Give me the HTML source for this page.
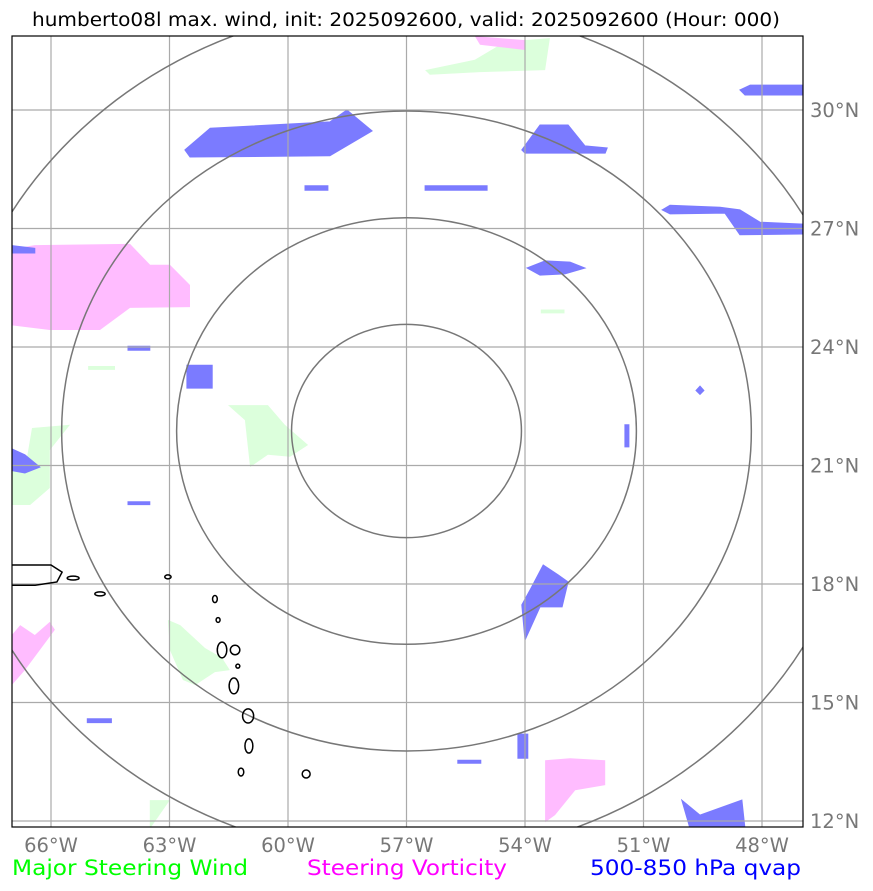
<!DOCTYPE html>
<html><head><meta charset="utf-8"><style>
body{margin:0;background:#fff;}
svg{display:block;font-family:"DejaVu Sans","Liberation Sans",sans-serif;}
</style></head><body>
<svg id="chart" width="873" height="891" viewBox="0 0 873 891" xmlns="http://www.w3.org/2000/svg">
<text x="32" y="26" font-size="18.5" textLength="748" lengthAdjust="spacingAndGlyphs" fill="#000">humberto08l max. wind, init: 2025092600, valid: 2025092600 (Hour: 000)</text>
<defs><clipPath id="clip"><rect x="12" y="36" width="791" height="791"/></clipPath></defs>
<g id="plot" clip-path="url(#clip)"></g>
<rect x="12" y="36" width="791" height="791" fill="none" stroke="#000" stroke-width="1.2"/>
<g id="axes"></g>
<text x="12" y="875" font-size="21.5" textLength="236" lengthAdjust="spacingAndGlyphs" fill="#00ff00">Major Steering Wind</text>
<text x="307" y="875" font-size="21.5" textLength="200" lengthAdjust="spacingAndGlyphs" fill="#ff00ff">Steering Vorticity</text>
<text x="590" y="875" font-size="21.5" textLength="211" lengthAdjust="spacingAndGlyphs" fill="#0000ff">500-850 hPa qvap</text>
</svg>
<script>
const lonTicks=[-66,-63,-60,-57,-54,-51,-48];
const latTicks=[30,27,24,21,18,15,12];
const lonLabels=["66°W","63°W","60°W","57°W","54°W","51°W","48°W"];
const latLabels=["30°N","27°N","24°N","21°N","18°N","15°N","12°N"];
const stormCenter=[-57,22];
const ringRadii=[1,2,3,4];
const qvapShapes=[
[[-62.61,28.99],[-61.97,29.54],[-58.94,29.70],[-58.51,30.0],[-57.87,29.47],[-58.94,28.84],[-62.48,28.81]],
[[-54.08,28.99],[-53.62,29.62],[-52.91,29.62],[-52.48,29.09],[-51.92,29.04],[-51.97,28.91],[-54.0,28.91]],
[[-48.56,30.51],[-48.30,30.63],[-46.9,30.63],[-46.9,30.38],[-48.43,30.38]],
[[-50.53,27.47],[-50.33,27.59],[-49.06,27.54],[-48.56,27.47],[-48.05,27.16],[-46.9,27.11],[-46.9,26.86],[-48.56,26.84],[-48.94,27.39],[-50.33,27.37]],
[[-53.95,26.0],[-53.49,26.18],[-52.86,26.15],[-52.48,26.0],[-52.99,25.85],[-53.62,25.82]],
[[-62.56,23.54],[-61.92,23.54],[-61.92,22.96],[-62.56,22.96]],
[[-54.08,17.47],[-53.87,17.85],[-53.54,18.48],[-53.16,18.23],[-52.91,18.05],[-53.06,17.42],[-53.62,17.42],[-54.0,16.58]],
[[-50.03,12.53],[-49.57,12.15],[-48.51,12.53],[-48.43,11.8],[-49.82,11.8]],
[[-67.1,21.47],[-66.66,21.27],[-66.28,20.96],[-66.66,20.81],[-67.1,20.89]],
[[-56.53,28.08],[-54.96,28.08],[-54.96,27.97],[-56.53,27.97]],
[[-59.57,28.08],[-58.99,28.08],[-58.99,27.97],[-59.57,27.97]],
[[-51.47,22.03],[-51.37,22.03],[-51.37,21.47],[-51.47,21.47]],
[[-64.05,20.08],[-63.5,20.08],[-63.5,20.01],[-64.05,20.01]],
[[-64.05,24.02],[-63.5,24.02],[-63.5,23.92],[-64.05,23.92]],
[[-65.08,14.59],[-64.47,14.59],[-64.47,14.49],[-65.08,14.49]],
[[-54.18,14.2],[-53.93,14.2],[-53.93,13.59],[-54.18,13.59]],
[[-55.7,13.54],[-55.12,13.54],[-55.12,13.46],[-55.7,13.46]],
[[-67.1,26.58],[-66.41,26.5],[-66.41,26.38],[-67.1,26.38]],
[[-49.57,23.01],[-49.47,22.9],[-49.57,22.8],[-49.67,22.9]]
];
const vortShapes=[
[[-67.1,26.46],[-66.41,26.58],[-64.0,26.61],[-63.49,26.08],[-62.99,26.08],[-62.48,25.57],[-62.48,25.01],[-64.0,24.99],[-64.76,24.43],[-66.03,24.43],[-67.1,24.56]],
[[-67.1,16.58],[-66.78,16.96],[-66.41,16.71],[-66.03,17.04],[-65.90,16.84],[-66.66,15.82],[-67.1,15.32]],
[[-53.49,13.54],[-52.86,13.59],[-51.97,13.54],[-51.97,12.91],[-52.73,12.78],[-53.24,12.15],[-53.49,11.97]],
[[-55.27,31.87],[-54.0,31.77],[-54.0,31.52],[-55.14,31.65]]
];
const windShapes=[
[[-56.53,31.01],[-55.27,31.27],[-54.63,31.65],[-54.0,31.77],[-53.37,31.82],[-53.49,31.01],[-55.14,30.96],[-56.41,30.89]],
[[-61.52,22.53],[-60.51,22.53],[-60.08,22.03],[-59.49,21.52],[-59.95,21.22],[-60.51,21.27],[-60.96,20.96],[-61.09,22.15]],
[[-67.1,20.89],[-66.66,20.89],[-66.48,21.95],[-65.52,22.03],[-66.03,21.39],[-66.03,20.43],[-66.53,20.0],[-67.1,20.0]],
[[-63.04,17.09],[-62.73,16.96],[-62.10,16.38],[-61.67,16.13],[-61.47,15.82],[-61.85,15.77],[-62.35,15.44],[-62.66,15.57],[-62.99,16.33]],
[[-65.06,23.52],[-64.38,23.52],[-64.38,23.42],[-65.06,23.42]],
[[-53.6,24.95],[-53.0,24.95],[-53.0,24.85],[-53.6,24.85]],
[[-63.5,12.53],[-62.99,12.53],[-63.5,11.8]]
];
const islands=[[-65.44,18.15,0.15,0.05],[-64.76,17.75,0.13,0.05],[-63.04,18.18,0.08,0.05],[-61.85,17.62,0.06,0.09],[-61.77,17.09,0.05,0.06],[-61.67,16.33,0.12,0.2],[-61.34,16.33,0.12,0.12],[-61.27,15.92,0.05,0.05],[-61.37,15.42,0.12,0.2],[-61.01,14.66,0.14,0.18],[-60.99,13.9,0.1,0.18],[-61.19,13.24,0.07,0.1],[-59.54,13.19,0.1,0.1]];
const puertoRico=[[-67.2,18.48],[-66.0,18.48],[-65.72,18.3],[-65.85,18.05],[-66.4,17.97],[-67.2,17.97]];

const px=lon=>51+(lon+66)*39.5;
const py=lat=>110+(30-lat)*39.5;
const NS="http://www.w3.org/2000/svg";
const plot=document.getElementById('plot');
const axes=document.getElementById('axes');
function mk(tag,attrs,parent){const e=document.createElementNS(NS,tag);for(const k in attrs)e.setAttribute(k,attrs[k]);parent.appendChild(e);return e;}
function poly(pts){return pts.map(p=>px(p[0]).toFixed(1)+','+py(p[1]).toFixed(1)).join(' ');}
windShapes.forEach(s=>{const e=mk('polygon',{points:poly(s),fill:'#dcffdc'},plot);

});
vortShapes.forEach(s=>{const e=mk('polygon',{points:poly(s),fill:'#ffbcff'},plot);

});
qvapShapes.forEach(s=>{const e=mk('polygon',{points:poly(s),fill:'#7b7bff',stroke:'#7b7bff','stroke-width':1},plot);

});
lonTicks.forEach(l=>{const e=mk('line',{x1:px(l),x2:px(l),y1:36,y2:827,stroke:'#aaa','stroke-width':1.2},plot);

});
latTicks.forEach(l=>{const e=mk('line',{x1:12,x2:803,y1:py(l),y2:py(l),stroke:'#aaa','stroke-width':1.2},plot);

});
const cx=px(stormCenter[0]),cy=py(stormCenter[1])+5;
ringRadii.forEach(r=>{const e=mk('ellipse',{cx:cx,cy:cy,rx:r*2.91*39.5,ry:r*2.70*39.5,fill:'none',stroke:'#777','stroke-width':1.5},plot);

});
const pr=mk('polygon',{points:poly(puertoRico),fill:'none',stroke:'#000','stroke-width':1.5},plot);


islands.forEach(i=>{const e=mk('ellipse',{cx:px(i[0]),cy:py(i[1]),rx:i[2]*39.5,ry:i[3]*39.5,fill:'none',stroke:'#000','stroke-width':1.5},plot);

});
lonTicks.forEach((l,i)=>{const t=mk('text',{x:px(l),y:852,'font-size':19.5,'text-anchor':'middle',fill:'#777'},axes);t.textContent=lonLabels[i];

});
latTicks.forEach((l,i)=>{const t=mk('text',{x:810,y:py(l)+7,'font-size':19.5,fill:'#777'},axes);t.textContent=latLabels[i];

});
</script>
</body></html>
